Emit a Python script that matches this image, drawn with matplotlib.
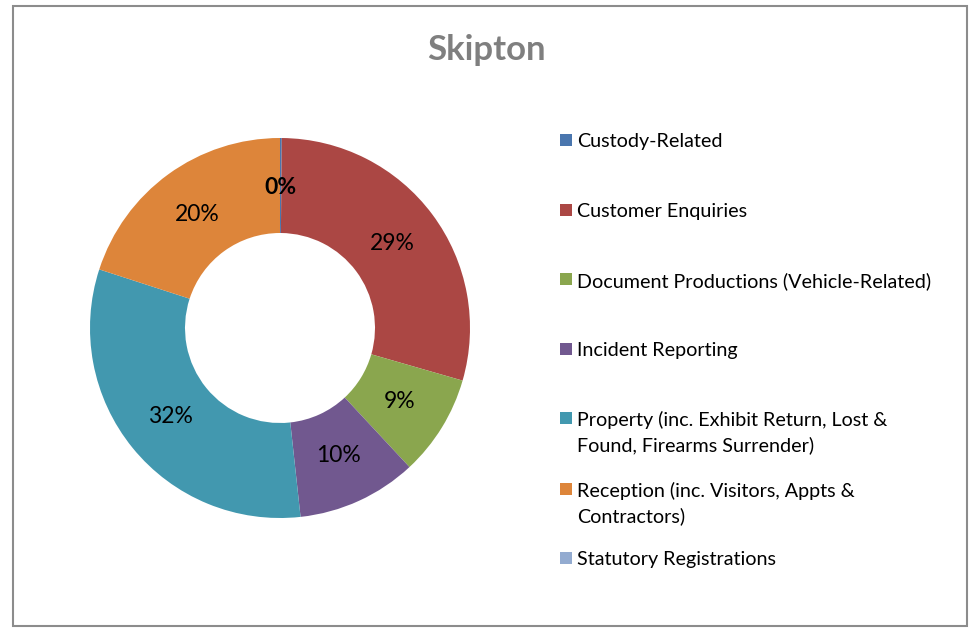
import matplotlib.pyplot as plt
from matplotlib.patches import Rectangle

plt.rcParams['font.family'] = ['Lato', 'DejaVu Sans']

categories = [
    "Custody-Related",
    "Customer Enquiries",
    "Document Productions (Vehicle-Related)",
    "Incident Reporting",
    "Property (inc. Exhibit Return, Lost &\nFound, Firearms Surrender)",
    "Reception (inc. Visitors, Appts &\nContractors)",
    "Statutory Registrations",
]
shares = [0.15, 29.3, 8.6, 10.2, 31.7, 20.0, 0.0]
colors = ["#4A76AE", "#AB4744", "#8AA64E", "#71588F", "#4298AF", "#DD853A", "#93ABD0"]

fig = plt.figure(figsize=(9.71, 6.30), dpi=100)

# chart frame
fig.add_artist(Rectangle((13 / 971, 1 - 626 / 630), 954 / 971, 620 / 630,
                         transform=fig.transFigure, fill=False,
                         edgecolor="#8C8C8C", linewidth=1.5))

fig.text(486 / 971, 1 - 50 / 630, "Skipton", ha="center", va="center",
         fontsize=25, fontweight="bold", color="#7F7F7F")

ax = fig.add_axes([90 / 971, 1 - 518 / 630, 380 / 971, 380 / 630])
wedges, texts, autotexts = ax.pie(
    shares, colors=colors, startangle=90, counterclock=False,
    wedgeprops=dict(width=0.5, linewidth=0),
    autopct="%1.0f%%", pctdistance=0.74,
    textprops=dict(fontsize=16.5, color="black"),
)
# the two 0% labels sit on top of each other; keep one, in bold
autotexts[0].set_fontweight("bold")
autotexts[-1].set_visible(False)
ax.set_xlim(-1, 1)
ax.set_ylim(-1, 1)
ax.set_aspect("equal")

# legend, drawn by hand to match the row spacing
row_y = [140, 210, 279, 349, 418, 489, 558]
for lab, col, y in zip(categories, colors, row_y):
    fig.add_artist(Rectangle((560 / 971, 1 - (y + 6) / 630), 12 / 971, 12 / 630,
                             transform=fig.transFigure, facecolor=col,
                             edgecolor="none"))
    fig.text(577 / 971, 1 - (y - 7) / 630, lab, ha="left", va="top",
             fontsize=14.2, color="black", linespacing=1.5)

fig.savefig("out.png", dpi=100)
